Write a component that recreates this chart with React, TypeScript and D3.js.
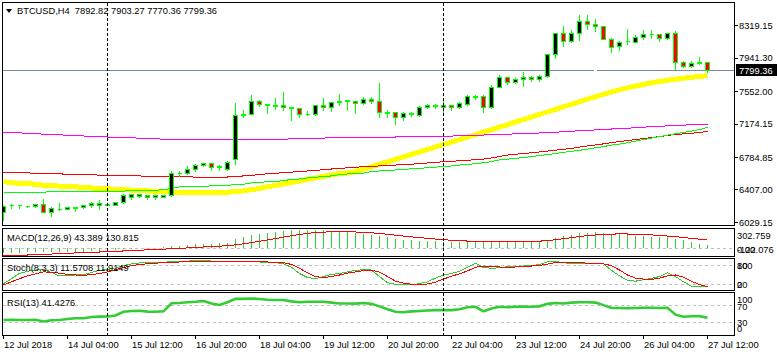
import React from "react";
import * as d3 from "d3";

// ---------- DATA ----------
const openP = [6150,6222,6232,6213,6214,6234,6150,6182,6186,6188,6203,6222,6228,6232,6230,6256,6325,6332,6344,6322,6325,6338,6600,6598,6648,6694,6716,6672,6640,6756,7272,7285,7439,7400,7382,7389,7368,7354,7286,7285,7392,7366,7424,7441,7435,7412,7462,7439,7306,7308,7245,7290,7273,7370,7382,7370,7389,7362,7404,7487,7489,7366,7597,7713,7655,7690,7717,7690,7721,7980,8223,8137,8223,8365,8331,8304,8153,8079,8132,8126,8184,8209,8211,8165,8223,7894,7848,7875,7892.82];
const highP = [6234,6254,6234,6225,6254,6312,6215,6261,6207,6207,6234,6272,6300,6242,6265,6370,6370,6370,6358,6354,6350,6639,6628,6686,6716,6723,6723,6704,6746,7423,7346,7516,7462,7405,7481,7555,7370,7366,7327,7400,7477,7431,7527,7450,7437,7489,7489,7651,7346,7308,7315,7315,7392,7412,7412,7469,7389,7431,7516,7516,7516,7636,7751,7728,7713,7779,7740,7748,7999,8225,8319,8273,8446,8446,8397,8306,8184,8145,8281,8212,8273,8273,8213,8234,8261,7914,7914,7960,7903.27];
const lowP = [6052,6196,6188,6203,6203,6145,6099,6165,6176,6157,6196,6207,6184,6222,6228,6252,6300,6323,6300,6300,6315,6330,6562,6582,6627,6677,6630,6639,6638,6704,7245,7280,7373,7296,7346,7334,7219,7250,7269,7276,7327,7315,7384,7334,7292,7400,7412,7245,7245,7172,7218,7265,7265,7354,7354,7308,7335,7354,7392,7462,7303,7354,7593,7632,7643,7605,7670,7663,7718,7934,8079,8126,8149,8269,8253,8151,8010,8030,8095,8119,8153,8172,8137,8157,7810,7836,7836,7871,7770.36];
const closeP = [6215,6230,6222,6217,6242,6150,6196,6186,6199,6205,6222,6246,6252,6236,6261,6338,6350,6356,6322,6340,6342,6601,6604,6647,6697,6716,6665,6680,6727,7268,7280,7431,7401,7390,7388,7366,7356,7284,7290,7384,7366,7424,7439,7445,7412,7458,7439,7308,7302,7245,7296,7292,7366,7392,7386,7389,7362,7412,7489,7491,7366,7597,7713,7655,7690,7717,7690,7728,7980,8223,8137,8223,8365,8327,8304,8153,8068,8126,8136,8184,8211,8213,8165,8223,7894,7848,7875,7891,7799.36];

const maMagenta = [7080,7075,7071,7066,7061,7056,7052,7048,7044,7039,7035,7030,7027,7023,7020,7016,7013,7010,7006,7002,6998,6995,6995,6994,6994,6993,6993,6992,6992,6991,6991,6991,6991,6993,6995,6998,7001,7004,7006,7008,7011,7013,7015,7017,7018,7019,7020,7021,7022,7023,7024,7025,7025,7028,7030,7032,7034,7037,7040,7043,7046,7049,7053,7056,7059,7062,7065,7070,7074,7078,7085,7090,7096,7101,7105,7111,7116,7120,7125,7131,7137,7143,7148,7152,7157,7161,7165,7169,7172];
const maRed = [6613,6611,6607,6605,6603,6600,6598,6594,6591,6589,6586,6584,6580,6578,6576,6574,6571,6570,6568,6567,6564,6563,6561,6560,6557,6556,6555,6556,6558,6567,6570,6579,6584,6596,6599,6611,6615,6622,6628,6634,6644,6651,6658,6665,6672,6677,6682,6687,6692,6697,6702,6707,6713,6721,6728,6735,6740,6747,6753,6759,6767,6779,6796,6813,6823,6832,6839,6849,6860,6870,6879,6891,6906,6919,6931,6943,6958,6970,6981,6993,7005,7016,7028,7041,7052,7059,7067,7075,7088];
const maGreen = [6381,6381,6381,6382,6382,6383,6385,6386,6392,6393,6393,6393,6393,6394,6394,6395,6396,6399,6402,6404,6410,6425,6443,6446,6446,6449,6455,6458,6460,6471,6474,6489,6495,6504,6506,6516,6530,6535,6547,6553,6567,6570,6587,6593,6601,6603,6622,6628,6630,6640,6642,6654,6656,6669,6672,6684,6686,6697,6706,6711,6726,6736,6758,6765,6775,6784,6796,6807,6819,6831,6845,6856,6868,6883,6897,6912,6929,6941,6956,6976,6993,7010,7028,7045,7061,7077,7091,7109,7134];
const maYellow = [6504,6492,6483,6481,6474,6463,6458,6452,6446,6443,6439,6431,6423,6420,6416,6410,6406,6400,6396,6393,6388,6385,6381,6381,6381,6381,6381,6381,6382,6388,6397,6411,6425,6445,6460,6477,6495,6510,6530,6547,6565,6582,6599,6605,6620,6649,6678,6705,6734,6763,6792,6821,6849,6878,6907,6936,6965,6993,7022,7051,7080,7109,7138,7167,7197,7226,7255,7285,7315,7344,7374,7404,7433,7463,7493,7520,7545,7571,7594,7616,7635,7652,7668,7682,7695,7706,7717,7727,7736];

const macdMain = [-80,-78,-75,-72,-68,-70,-72,-70,-66,-62,-58,-52,-45,-40,-32,-20,-10,-2,4,8,10,30,40,52,62,70,74,76,84,140,175,210,235,250,262,280,290,298,302.759,300,292,280,268,255,242,230,218,200,175,150,135,128,120,112,108,105,102,100,100,98,92,100,105,108,110,112,115,118,135,170,195,220,240,252,258,250,235,225,210,200,192,188,182,175,150,125,100,72,43.389];
const macdSignal = [-122.076,-120,-117,-114,-110,-105,-98,-92,-86,-80,-75,-70,-65,-60,-54,-48,-42,-36,-30,-24,-18,-12,-5,2,10,17,24,31,38,52,68,88,110,132,155,178,200,222,240,252,260,265,266,265,262,256,248,238,225,210,196,182,170,158,146,136,128,120,114,110,106,104,103,104,106,108,110,113,120,135,152,170,188,202,214,222,228,230,229,226,220,214,206,196,186,172,158,144,130.815];

const stochMain = [22,38,55,62,66,68,58,47,48,50,51,58,65,68,72,80,86,89,91,91,90,94,94,95,96,97,95,93,94,95,94,93,92,91,90,86,75,55,42,38,45,52,55,60,65,67,66,45,25,20,18,18,22,28,40,50,55,62,75,88,74,72,73,77,78,79,80,84,92,94,89,88,88,88,88,86,65,47,33,30,35,39,45,57,45,28,14,12,11.5708];
const stochSignal = [18,28,38,47,54,60,59,56,52,50,49,51,55,60,67,74,80,84,86,88,90,91,92,93,94,95,95,95,94,94,94,94,93,92,91,90,84,72,57,45,42,45,50,56,60,64,66,59,45,30,24,20,19,21,27,37,46,54,63,75,79,78,76,74,76,78,79,81,85,90,91,91,90,88,87,86,80,66,50,40,37,36,40,47,50,43,30,19,11.9149];

const rsiValues = [36,36.5,36.3,36.2,36.8,32.5,35.5,36,38.5,40.4,40.5,43.5,44.3,44.5,47,56,58,58.5,56.4,56,57,76.5,77,79,80,82,76,72.5,79,87,87,88,86.8,85,84.5,84.4,81,79,80,80.3,80.3,78,76,76,75.5,77,75,69,62,56,55,57,58,59,60,60,60,62,67,68,57,64,68,67,68,68.5,68,69,75,77,76,78,79,79,78,72,65,65,64.5,65,65.5,65.5,65,65.5,49,44,45,45.5,41.4276];

const priceTicks = [8319.15, 7941.3, 7552.0, 7174.15, 6784.85, 6407.0, 6029.15];
const priceTickLabels = ["8319.15", "7941.30", "7552.00", "7174.15", "6784.85", "6407.00", "6029.15"];
const timeTickIndex = [0, 8, 16, 24, 32, 40, 48, 56, 64, 72, 80, 88];
const timeTickLabels = ["12 Jul 2018", "14 Jul 04:00", "15 Jul 12:00", "16 Jul 20:00", "18 Jul 04:00", "19 Jul 12:00", "20 Jul 20:00", "22 Jul 04:00", "23 Jul 12:00", "24 Jul 20:00", "26 Jul 04:00", "27 Jul 12:00"];
const separatorIndex = [13, 55];

const headerText = "BTCUSD,H4  7892.82 7903.27 7770.36 7799.36";
const currentPrice = 7799.36;

// ---------- LAYOUT ----------
const LEFT = 2.5, RIGHT = 734.5;
const FONT = "'Liberation Sans', Arial, sans-serif";
const FS = 9.3;
const LIME = "#00FF00";
const IND_GREEN = "#32CD32";
const LEVEL = "#C0C0C0";

export default function App() {
  const N = closeP.length;
  const x = d3.scaleLinear().domain([0, N - 1]).range([3.5, 3.5 + 8 * (N - 1)]);
  const yMain = d3.scaleLinear().domain([6029.15, 8319.15]).range([222.5, 25.5]);
  const yMacd = d3.scaleLinear().domain([-122.076, 302.759]).range([255.5, 229.5]);
  const yStoch = d3.scaleLinear().domain([0, 100]).range([290.5, 259.5]);
  const yRsi = d3.scaleLinear().domain([0, 100]).range([335, 293.5]);
  const cr = (v: number) => Math.round(v - 0.5) + 0.5;

  const idx = d3.range(N);
  const mkLine = (vals: number[], ys: d3.ScaleLinear<number, number>) =>
    d3.line<number>().x((i) => x(i)).y((i) => ys(vals[i]))(idx) || "";

  const panels = [
    { top: 2.5, bottom: 225.5 },
    { top: 228.5, bottom: 256.5 },
    { top: 258.5, bottom: 290.5 },
    { top: 292.5, bottom: 335.5 },
  ];

  const yCur = cr(yMain(currentPrice));

  return (
    <svg
      width={777}
      height={356}
      viewBox="0 0 777 356"
      style={{ position: "fixed", left: 0, top: 0, background: "#fff", display: "block" }}
      fontFamily={FONT}
      fontSize={FS}
    >
      <rect x={0} y={0} width={777} height={356} fill="#fff" />
      <defs>
        <clipPath id="mainClip">
          <rect x={LEFT + 0.5} y={3} width={RIGHT - LEFT - 1} height={222} />
        </clipPath>
      </defs>

      {/* current price line */}
      <g shapeRendering="crispEdges">
        <line x1={LEFT} x2={594} y1={yCur} y2={yCur} stroke="#778899" />
        <line x1={597} x2={RIGHT} y1={yCur} y2={yCur} stroke="#778899" />
      </g>

      {/* moving averages */}
      <g clipPath="url(#mainClip)" fill="none" shapeRendering="crispEdges">
        <path d={mkLine(maYellow, yMain)} stroke="#FFFF00" strokeWidth={5} />
        <path d={mkLine(maMagenta, yMain)} stroke="#FF00FF" strokeWidth={1} />
        <path d={mkLine(maRed, yMain)} stroke="#FF0000" strokeWidth={1} />
        <path d={mkLine(maGreen, yMain)} stroke="#00FF00" strokeWidth={1} />
      </g>

      {/* candles */}
      <g clipPath="url(#mainClip)" shapeRendering="crispEdges">
        {idx.map((i) => {
          const xc = cr(x(i));
          const o = openP[i], c = closeP[i];
          const yTop = cr(yMain(Math.max(o, c)));
          const yBot = cr(yMain(Math.min(o, c)));
          const bull = c >= o;
          const h = yBot - yTop;
          return (
            <g key={i}>
              <line x1={xc} x2={xc} y1={cr(yMain(highP[i]))} y2={cr(yMain(lowP[i]))} stroke={LIME} />
              {h < 1 ? (
                <line x1={xc - 2} x2={xc + 2} y1={yTop} y2={yTop} stroke={LIME} />
              ) : (
                <rect x={xc - 2} y={yTop} width={4} height={h} fill={bull ? "#000" : "#FF0000"} stroke={LIME} />
              )}
            </g>
          );
        })}
      </g>

      {/* MACD */}
      <g shapeRendering="crispEdges">
        <line x1={LEFT} x2={RIGHT} y1={cr(yMacd(0))} y2={cr(yMacd(0))} stroke={LEVEL} strokeDasharray="3,3" />
        {idx.map((i) => (
          <line key={i} x1={cr(x(i))} x2={cr(x(i))} y1={yMacd(0)} y2={yMacd(macdMain[i])} stroke={IND_GREEN} />
        ))}
        <path d={mkLine(macdSignal, yMacd)} fill="none" stroke="#FF0000" />
      </g>

      {/* Stochastic */}
      <g shapeRendering="crispEdges" fill="none">
        {[80, 20].map((lv) => (
          <line key={lv} x1={LEFT} x2={RIGHT} y1={cr(yStoch(lv))} y2={cr(yStoch(lv))} stroke={LEVEL} strokeDasharray="3,3" />
        ))}
        <path d={mkLine(stochMain, yStoch)} stroke={IND_GREEN} />
        <path d={mkLine(stochSignal, yStoch)} stroke="#FF0000" />
      </g>

      {/* RSI */}
      <g fill="none">
        {[70, 30].map((lv) => (
          <line key={lv} x1={LEFT} x2={RIGHT} y1={cr(yRsi(lv))} y2={cr(yRsi(lv))} stroke={LEVEL} strokeDasharray="3,3" shapeRendering="crispEdges" />
        ))}
        <path d={mkLine(rsiValues, yRsi)} stroke={IND_GREEN} strokeWidth={2.6} />
      </g>

      {/* period separators */}
      <g shapeRendering="crispEdges">
        {separatorIndex.map((i) => (
          <line key={i} x1={cr(x(i))} x2={cr(x(i))} y1={3} y2={335} stroke="#000" strokeDasharray="3,2" />
        ))}
      </g>

      {/* panel frames */}
      <g fill="none" stroke="#000" shapeRendering="crispEdges">
        {panels.map((p, k) => (
          <rect key={k} x={LEFT} y={p.top} width={RIGHT - LEFT} height={p.bottom - p.top} />
        ))}
      </g>

      {/* price axis */}
      <g shapeRendering="crispEdges">
        {priceTicks.map((t, k) => (
          <line key={k} x1={RIGHT} x2={738} y1={cr(yMain(t))} y2={cr(yMain(t))} stroke="#000" />
        ))}
      </g>
      {priceTicks.map((t, k) => (
        <text key={k} x={739} y={yMain(t) + 3.3} fill="#000">{priceTickLabels[k]}</text>
      ))}
      <rect x={736} y={yCur - 6.5} width={41} height={12} fill="#000" />
      <text x={739} y={yCur + 3.3} fill="#fff">{currentPrice.toFixed(2)}</text>

      {/* sub-window scales (overlapping as in the reference) */}
      <text x={737} y={239} fill="#000">302.759</text>
      <text x={737} y={253} fill="#000">0.00</text>
      <text x={737} y={253} fill="#000">-122.076</text>
      <text x={737} y={269.3} fill="#000">100</text>
      <text x={737} y={269.3} fill="#000">80</text>
      <text x={737} y={288} fill="#000">20</text>
      <text x={737} y={288} fill="#000">0</text>
      <text x={737} y={302.5} fill="#000">100</text>
      <text x={737} y={309.5} fill="#000">70</text>
      <text x={737} y={325.5} fill="#000">30</text>
      <text x={737} y={332.3} fill="#000">0</text>

      {/* time axis */}
      <g shapeRendering="crispEdges">
        {timeTickIndex.map((i) => (
          <line key={i} x1={cr(x(i))} x2={cr(x(i))} y1={335} y2={339} stroke="#000" />
        ))}
      </g>
      {timeTickIndex.map((i, k) => (
        <text key={i} x={x(i) + 0.5} y={347.5} fill="#000">{timeTickLabels[k]}</text>
      ))}

      {/* headers */}
      <path d="M6,9 L12,9 L9,13 Z" fill="#000" />
      <text x={17} y={14.3} fill="#000" style={{ whiteSpace: "pre" }}>{headerText}</text>
      <text x={7} y={241} fill="#000">MACD(12,26,9) 43.389 130.815</text>
      <text x={7} y={271} fill="#000">Stoch(8,3,3) 11.5708 11.9149</text>
      <text x={7} y={306} fill="#000">RSI(13) 41.4276</text>
    </svg>
  );
}
